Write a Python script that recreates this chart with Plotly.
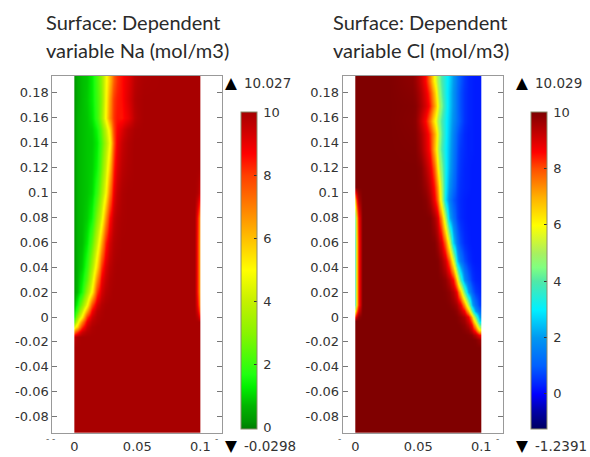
import plotly.graph_objects as go

W, H = 590, 457

title_na = ["Surface: Dependent", "variable Na (mol/m3)"]
title_cl = ["Surface: Dependent", "variable Cl (mol/m3)"]
na_max, na_min = "10.027", "-0.0298"
cl_max, cl_min = "10.029", "-1.2391"
na_zmin, na_zmax = -0.0298, 10.027
cl_zmin, cl_zmax = -1.2391, 10.029

y_ticks = [-0.08, -0.06, -0.04, -0.02, 0, 0.02, 0.04, 0.06, 0.08, 0.1, 0.12, 0.14, 0.16, 0.18]
y_labels = ["-0.08", "-0.06", "-0.04", "-0.02", "0", "0.02", "0.04", "0.06", "0.08", "0.1", "0.12", "0.14", "0.16", "0.18"]
x_ticks = [0, 0.05, 0.1]
x_labels = ["0", "0.05", "0.1"]
bar_ticks = [0, 2, 4, 6, 8, 10]

na_x = [0, .001, .004, .008, .012, .016, .02, .023, .026, .029, .032, .036, .04, .045, .05, .06, .08, .094, .097, .099, .1]
na_y = [-.09, -.025, -.016, -.012, -.008, -.004, 0, .005, .01, .02, .03, .04, .06, .08, .1, .12, .14, .15, .16, .175, .19]
na_z = [
    [10, 10, 10, 10, 10, 10, 10, 10, 10, 10, 10, 10, 10, 10, 10, 10, 10, 10, 10, 10],
    [10, 10, 10, 10, 10, 10, 10, 10, 10, 10, 10, 10, 10, 10, 10, 10, 10, 10, 10, 10],
    [9.6, 9.9, 10, 10, 10, 10, 10, 10, 10, 10, 10, 10, 10, 10, 10, 10, 10, 10, 10, 10],
    [7.0, 8.2, 9.4, 9.8, 9.95, 10, 10, 10, 10, 10, 10, 10, 10, 10, 10, 10, 10, 10, 10, 10],
    [4.5, 5.8, 8.2, 9.5, 9.9, 10, 10, 10, 10, 10, 10, 10, 10, 10, 10, 10, 10, 10, 10, 10],
    [2.5, 4.5, 6.9, 9.0, 9.7, 9.9, 10, 10, 10, 10, 10, 10, 10, 10, 10, 10, 10, 10, 10, 10],
    [1.5, 3.3, 5.1, 8.1, 9.4, 9.85, 9.95, 10, 10, 10, 10, 10, 10, 10, 10, 10, 10, 10, 9.6, 8.0],
    [1.0, 2.2, 4.0, 6.4, 8.8, 9.7, 9.9, 10, 10, 10, 10, 10, 10, 10, 10, 10, 10, 10, 9.0, 6.5],
    [0.6, 1.6, 3.0, 4.9, 7.8, 9.3, 9.8, 9.95, 10, 10, 10, 10, 10, 10, 10, 10, 10, 10, 8.5, 5.8],
    [0.3, 0.8, 1.6, 3.3, 5.1, 8.1, 9.3, 9.75, 9.9, 10, 10, 10, 10, 10, 10, 10, 10, 10, 8.0, 5.4],
    [0.25, 0.75, 1.3, 2.4, 4.3, 6.9, 8.9, 9.5, 9.85, 9.95, 10, 10, 10, 10, 10, 10, 10, 10, 8.0, 5.4],
    [0.2, 0.7, 1.0, 1.9, 3.5, 5.6, 8.1, 9.2, 9.7, 9.9, 10, 10, 10, 10, 10, 10, 10, 10, 8.0, 5.4],
    [0.2, 0.7, 0.8, 1.3, 2.4, 4.2, 6.3, 8.3, 9.3, 9.75, 9.9, 10, 10, 10, 10, 10, 10, 10, 8.0, 5.4],
    [0.2, 0.7, 0.8, 1.0, 1.5, 3.0, 4.5, 6.6, 8.5, 9.4, 9.8, 9.95, 10, 10, 10, 10, 10, 10, 8.2, 5.8],
    [0.2, 0.7, 0.8, 0.9, 1.1, 2.0, 3.4, 4.8, 7.0, 8.7, 9.55, 9.9, 10, 10, 10, 10, 10, 10, 9.8, 9.0],
    [0.2, 0.7, 0.8, 0.9, 1.0, 1.5, 2.7, 4.1, 5.8, 8.0, 9.2, 9.7, 9.9, 10, 10, 10, 10, 10, 10, 10],
    [0.2, 0.7, 0.8, 0.9, 0.95, 1.3, 2.3, 3.5, 4.8, 7.2, 8.9, 9.5, 9.85, 10, 10, 10, 10, 10, 10, 10],
    [0.2, 0.7, 0.8, 0.9, 1.0, 1.5, 2.6, 3.9, 5.4, 7.6, 8.7, 9.2, 9.7, 9.95, 10, 10, 10, 10, 10, 10],
    [0.2, 0.7, 0.8, 0.9, 1.2, 2.0, 3.3, 5.0, 6.7, 8.0, 8.5, 8.5, 9.0, 9.7, 10, 10, 10, 10, 10, 10],
    [0.2, 0.6, 0.8, 0.95, 1.3, 2.1, 3.1, 4.8, 6.5, 7.9, 8.4, 8.6, 9.2, 9.8, 10, 10, 10, 10, 10, 10],
    [0.2, 0.6, 0.8, 0.9, 1.3, 2.2, 3.2, 4.7, 6.0, 7.3, 8.2, 8.6, 9.1, 9.7, 9.95, 10, 10, 10, 10, 10],
]

cl_x = [0, .001, .004, .007, .045, .05, .054, .058, .061, .064, .067, .07, .073, .076, .079, .082, .085, .088, .091, .094, .097, .1]
cl_y = [-.09, -.025, -.018, -.014, -.01, -.006, -.003, 0, .005, .01, .02, .03, .045, .06, .08, .094, .105, .12, .135, .147, .1575, .17, .18, .19]
cl_z = [
    [10, 10, 10, 10, 10, 10, 10, 10, 10, 10, 10, 10, 10, 10, 10, 10, 10, 10, 10, 10, 10],
    [10, 10, 10, 10, 10, 10, 10, 10, 10, 10, 10, 10, 10, 10, 10, 10, 10, 10, 10, 10, 10],
    [10, 10, 10, 10, 10, 10, 10, 10, 10, 10, 10, 10, 10, 10, 10, 10, 10, 10, 10, 9.95, 9.7],
    [10, 10, 10, 10, 10, 10, 10, 10, 10, 10, 10, 10, 10, 10, 10, 10, 10, 9.95, 9.85, 9.4, 8.6],
    [10, 10, 10, 10, 10, 10, 10, 10, 10, 10, 10, 10, 10, 10, 10, 10, 9.9, 9.75, 9.2, 8.1, 6.1],
    [10, 10, 10, 10, 10, 10, 10, 10, 10, 10, 10, 10, 10, 10, 10, 9.95, 9.8, 9.4, 8.6, 6.8, 4.2],
    [10, 10, 10, 10, 10, 10, 10, 10, 10, 10, 10, 10, 10, 10, 9.97, 9.85, 9.65, 9.05, 7.8, 5.6, 2.7],
    [8.5, 9.8, 10, 10, 10, 10, 10, 10, 10, 10, 10, 10, 10, 10, 9.95, 9.8, 9.5, 8.7, 6.9, 4.4, 2.0],
    [6.0, 9.0, 10, 10, 10, 10, 10, 10, 10, 10, 10, 10, 10, 9.95, 9.8, 9.4, 8.6, 6.8, 4.2, 2.0, 1.1],
    [4.0, 8.3, 10, 10, 10, 10, 10, 10, 10, 10, 10, 10, 9.95, 9.8, 9.55, 8.9, 7.3, 5.0, 2.3, 1.3, 0.65],
    [4.0, 8.3, 10, 10, 10, 10, 10, 10, 10, 10, 10, 9.95, 9.8, 9.4, 8.6, 6.8, 4.2, 2.0, 1.1, 0.6, 0.4],
    [4.0, 8.3, 10, 10, 10, 10, 10, 10, 10, 10, 9.95, 9.8, 9.35, 8.5, 6.5, 3.9, 1.85, 1.05, 0.55, 0.35, 0.3],
    [4.0, 8.3, 10, 10, 10, 10, 10, 10, 10, 9.95, 9.65, 9.05, 7.8, 5.6, 2.7, 1.45, 0.8, 0.45, 0.3, 0.25, 0.25],
    [4.0, 8.3, 10, 10, 10, 10, 10, 10, 9.95, 9.6, 9.0, 7.7, 5.5, 2.6, 1.4, 0.75, 0.42, 0.3, 0.25, 0.25, 0.25],
    [4.5, 8.5, 10, 10, 10, 10, 10, 9.95, 9.55, 8.9, 7.4, 5.0, 2.3, 1.3, 0.7, 0.42, 0.3, 0.25, 0.25, 0.25, 0.25],
    [7.0, 9.5, 10, 10, 10, 10, 9.9, 9.5, 8.7, 7.6, 5.5, 2.9, 1.6, 0.9, 0.6, 0.4, 0.3, 0.25, 0.25, 0.25, 0.25],
    [10, 10, 10, 10, 10, 9.95, 9.7, 9.2, 8.4, 7.1, 5.2, 3.1, 1.9, 1.2, 0.7, 0.45, 0.35, 0.3, 0.25, 0.25, 0.25],
    [10, 10, 10, 10, 10, 9.9, 9.4, 8.8, 7.8, 6.0, 4.6, 3.2, 2.2, 1.4, 0.8, 0.5, 0.35, 0.3, 0.25, 0.25, 0.25],
    [10, 10, 10, 10, 9.95, 9.6, 9.0, 8.3, 6.9, 5.3, 4.0, 3.1, 2.3, 1.5, 0.9, 0.55, 0.4, 0.3, 0.3, 0.25, 0.25],
    [10, 10, 10, 10, 9.9, 9.5, 8.9, 8.2, 7.1, 5.6, 4.2, 3.2, 2.4, 1.6, 1.0, 0.65, 0.4, 0.3, 0.3, 0.25, 0.25],
    [10, 10, 10, 10, 9.85, 9.2, 8.5, 7.5, 6.2, 5.0, 4.0, 3.2, 2.5, 1.8, 1.3, 0.85, 0.5, 0.35, 0.3, 0.25, 0.25],
    [10, 10, 10, 10, 9.9, 9.5, 9.0, 8.3, 7.2, 5.8, 4.5, 3.4, 2.6, 1.9, 1.3, 0.8, 0.5, 0.35, 0.3, 0.25, 0.25],
    [10, 10, 10, 10, 9.8, 9.4, 8.8, 8.0, 6.8, 5.3, 4.2, 3.3, 2.6, 1.9, 1.3, 0.8, 0.5, 0.35, 0.3, 0.25, 0.25],
    [10, 10, 10, 10, 9.7, 9.2, 8.5, 7.4, 6.0, 4.9, 4.0, 3.3, 2.7, 2.0, 1.4, 0.9, 0.55, 0.35, 0.3, 0.25, 0.25],
]

na_stops = [(-0.0298, "#007c00"), (0.2, "#009400"), (0.7, "#00b400"), (1.3, "#00f000"), (1.7, "#20ff10"),
            (3, "#88f400"), (4, "#c4f000"), (5, "#ffff00"), (6, "#ffc000"), (7, "#ff8000"), (8, "#ff4000"),
            (8.7, "#ff0000"), (9.5, "#c80000"), (10, "#a80000"), (10.027, "#880000")]
cl_stops = [(-1.2391, "#000060"), (-0.6, "#0000a8"), (0, "#0000ff"), (0.3, "#0020ff"), (1, "#0060ff"),
            (2, "#0098f0"), (3, "#00f0ff"), (4, "#50e8a8"), (4.5, "#80ff80"), (5, "#a8f060"), (6, "#ffff00"),
            (7, "#ffb000"), (8, "#ff5000"), (8.6, "#ff0000"), (9.3, "#c00000"), (10, "#800000"), (10.029, "#700000")]


def scale(stops, lo, hi):
    return [[(v - lo) / (hi - lo), c] for v, c in stops[:-1]] + [[1, stops[-1][1]]]


def colorbar(left):
    return dict(
        x=left / W, xanchor="left", xpad=0, thickness=15.5, thicknessmode="pixels",
        y=(H - 428.5) / H, yanchor="bottom", ypad=0, len=316.5 / H, lenmode="fraction",
        tickmode="array", tickvals=bar_ticks, ticktext=["\u2009" + str(t) for t in bar_ticks],
        ticks="inside", ticklen=3, tickcolor="#333333", tickwidth=1,
        outlinecolor="#8a8a6a", outlinewidth=1,
        tickfont=dict(family="DejaVu Sans", size=13, color="#333333"),
    )


fig = go.Figure()
fig.add_trace(go.Heatmap(x=na_x, y=na_y, z=na_z, zmin=na_zmin, zmax=na_zmax, zsmooth="best",
                         colorscale=scale(na_stops, na_zmin, na_zmax), colorbar=colorbar(240.7),
                         xaxis="x", yaxis="y", hoverinfo="skip"))
fig.add_trace(go.Heatmap(x=cl_x, y=cl_y, z=cl_z, zmin=cl_zmin, zmax=cl_zmax, zsmooth="best",
                         colorscale=scale(cl_stops, cl_zmin, cl_zmax), colorbar=colorbar(531),
                         xaxis="x2", yaxis="y2", hoverinfo="skip"))

tick_font = dict(family="DejaVu Sans", size=13, color="#333333")
yaxis = dict(range=[-0.0931, 0.1937], tickmode="array", tickvals=y_ticks, ticktext=y_labels, ticks="inside",
             ticklen=5, tickcolor="#777777", showline=True, linecolor="#999999", linewidth=1, mirror="allticks",
             showgrid=False, zeroline=False, tickfont=tick_font,
             domain=[(H - 433) / H, (H - 75.7) / H])
xbase = dict(tickmode="array", tickvals=x_ticks, ticktext=x_labels, ticks="outside", ticklen=1,
             tickcolor="rgba(0,0,0,0)", showline=True, linecolor="#999999", linewidth=1, mirror=True,
             showgrid=False, zeroline=False, tickfont=tick_font)
fig.update_layout(
    width=W, height=H, autosize=False, margin=dict(l=0, r=0, t=0, b=0),
    paper_bgcolor="white", plot_bgcolor="white",
    xaxis=dict(xbase, range=[-0.0175, 0.1172], domain=[52.3 / W, 222 / W], anchor="y"),
    yaxis=dict(yaxis, anchor="x"),
    xaxis2=dict(xbase, range=[-0.0100, 0.1175], domain=[342.7 / W, 503.3 / W], anchor="y2"),
    yaxis2=dict(yaxis, anchor="x2"),
)


def label(px, py, text, size, family="DejaVu Sans", color="#333333"):
    fig.add_annotation(x=px / W, y=1 - py / H, xref="paper", yref="paper", text=text, showarrow=False,
                       xanchor="left", yanchor="middle", xshift=0, yshift=0, borderpad=0, borderwidth=0,
                       font=dict(family=family, size=size, color=color))


for px, lines in ((46, title_na), (333, title_cl)):
    for py, line in zip((22, 50), lines):
        label(px, py, line, 20, family="Lato", color="#2a2a2a")

for px, top, bottom in ((225, na_max, na_min), (516, cl_max, cl_min)):
    label(px, 83, "▲", 15.5, color="#000000")
    label(px + 19, 83, top, 13.5)
    label(px, 445.5, "▼", 15.5, color="#000000")
    label(px + 19, 445.5, bottom, 13.5)

for px, mark in ((46, "- -"), (215, "-"), (338, "-"), (496, "-")):
    label(px, 439, mark, 9, color="#555555")

fig.write_html("out.html", config={"displayModeBar": False},
               post_script="document.body.style.margin='0';document.body.style.overflow='hidden';")
